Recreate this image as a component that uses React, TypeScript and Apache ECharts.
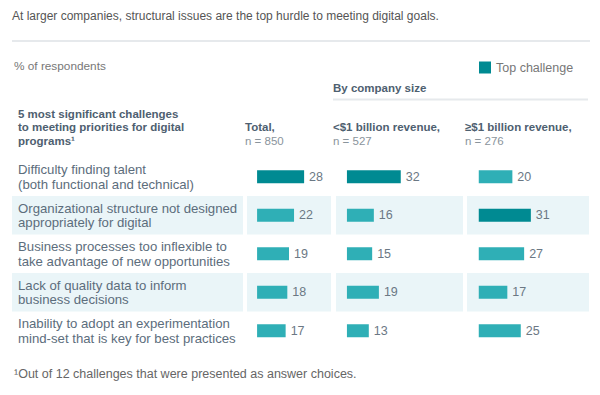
import React, { useEffect, useRef } from "react";
import * as echarts from "echarts";

const challenges = [
  "Difficulty finding talent\n(both functional and technical)",
  "Organizational structure not designed\nappropriately for digital",
  "Business processes too inflexible to\ntake advantage of new opportunities",
  "Lack of quality data to inform\nbusiness decisions",
  "Inability to adopt an experimentation\nmind-set that is key for best practices",
];
const totalValues = [28, 22, 19, 18, 17];
const smallCompanyValues = [32, 16, 15, 19, 13];
const largeCompanyValues = [20, 31, 27, 17, 25];
const columnHeaders = ["Total,", "<$1 billion revenue,", "≥$1 billion revenue,"];
const columnSamples = ["n = 850", "n = 527", "n = 276"];

const DARK = "#008A92";
const LIGHT = "#2FAFB6";
const SHADE = "#EAF5F8";
const FONT = "'Liberation Sans', Arial, Helvetica, sans-serif";
const SLATE = "#5C6D7C";

export default function App() {
  const ref = useRef<HTMLDivElement>(null);
  useEffect(() => {
    if (!ref.current) return;
    const chart = echarts.init(ref.current, undefined, { renderer: "svg" });
    const columns = [totalValues, smallCompanyValues, largeCompanyValues];
    const top = 157.5;
    const height = 192.5;
    const grids = [
      { left: 12, width: 231 },
      { left: 247, width: 84 },
      { left: 336, width: 127 },
      { left: 467, width: 122 },
    ].map((g) => ({ ...g, top, height }));
    const xRanges = [
      [0, 1],
      [-6, 44],
      [-6.5, 69],
      [-7, 65.6],
    ];
    const headerX = [245, 333, 465];

    const option: any = {
      animation: false,
      textStyle: { fontFamily: FONT },
      grid: grids,
      legend: {
        left: 479,
        top: 61,
        padding: 0,
        icon: "rect",
        itemWidth: 12,
        itemHeight: 12,
        itemGap: 5,
        data: ["Top challenge"],
        selectedMode: false,
        textStyle: { fontSize: 12.5, color: "#777", fontFamily: FONT, padding: [0, 0, 0, 0] },
      },
      xAxis: grids.map((_, i) => ({
        type: "value",
        gridIndex: i,
        min: xRanges[i][0],
        max: xRanges[i][1],
        show: false,
      })),
      yAxis: grids.map((_, i) => ({
        type: "category",
        gridIndex: i,
        data: challenges,
        inverse: true,
        axisLine: { show: false },
        axisTick: { show: false },
        splitLine: { show: false },
        splitArea: { show: true, areaStyle: { color: ["rgba(255,255,255,0)", SHADE] } },
        axisLabel:
          i === 0
            ? {
                show: true,
                align: "left",
                margin: -6,
                fontSize: 13.2,
                lineHeight: 14.5,
                color: SLATE,
                fontFamily: FONT,
              }
            : { show: false },
      })),
      series: columns.map((vals, c) => {
        const maxV = Math.max(...vals);
        return {
          name: "Top challenge",
          type: "bar",
          xAxisIndex: c + 1,
          yAxisIndex: c + 1,
          barWidth: 13,
          itemStyle: { color: DARK },
          label: {
            show: true,
            position: "right",
            distance: 5,
            fontSize: 12.5,
            color: "#6B7884",
            fontFamily: FONT,
          },
          data: vals.map((v) => ({
            value: v,
            itemStyle: { color: v === maxV ? DARK : LIGHT },
          })),
        };
      }),
      graphic: [
        {
          type: "text",
          left: 12,
          top: 10,
          style: {
            text: "At larger companies, structural issues are the top hurdle to meeting digital goals.",
            fontSize: 12,
            fill: "#555",
            fontFamily: FONT,
          },
        },
        {
          type: "line",
          shape: { x1: 12, y1: 41, x2: 590, y2: 41 },
          style: { stroke: "#E6E9EC", lineWidth: 2 },
        },
        {
          type: "text",
          left: 14,
          top: 60,
          style: { text: "% of respondents", fontSize: 11.8, fill: "#777", fontFamily: FONT },
        },
        {
          type: "text",
          left: 333,
          top: 82,
          style: { text: "By company size", fontSize: 11.5, fontWeight: "bold", fill: "#4E6070", fontFamily: FONT },
        },
        {
          type: "line",
          shape: { x1: 333, y1: 99.5, x2: 588, y2: 99.5 },
          style: { stroke: "#E6E9EC", lineWidth: 2 },
        },
        {
          type: "text",
          left: 18,
          top: 107,
          style: {
            text: "5 most significant challenges\nto meeting priorities for digital\nprograms¹",
            fontSize: 11.5,
            lineHeight: 13.5,
            fontWeight: "bold",
            fill: "#4E6070",
            fontFamily: FONT,
          },
        },
        ...columnHeaders.flatMap((h, i) => [
          {
            type: "text",
            left: headerX[i],
            top: 121,
            style: { text: h, fontSize: 11.5, fontWeight: "bold", fill: "#4E6070", fontFamily: FONT },
          },
          {
            type: "text",
            left: headerX[i],
            top: 135,
            style: { text: columnSamples[i], fontSize: 11.5, fill: "#8A949C", fontFamily: FONT },
          },
        ]),
        {
          type: "text",
          left: 14,
          top: 367,
          style: {
            text: "¹Out of 12 challenges that were presented as answer choices.",
            fontSize: 12.5,
            fill: "#666",
            fontFamily: FONT,
          },
        },
      ],
    };
    chart.setOption(option);
    return () => chart.dispose();
  }, []);
  return (
    <div
      ref={ref}
      style={{ position: "absolute", left: 0, top: 0, width: 600, height: 395, background: "#fff" }}
    />
  );
}
